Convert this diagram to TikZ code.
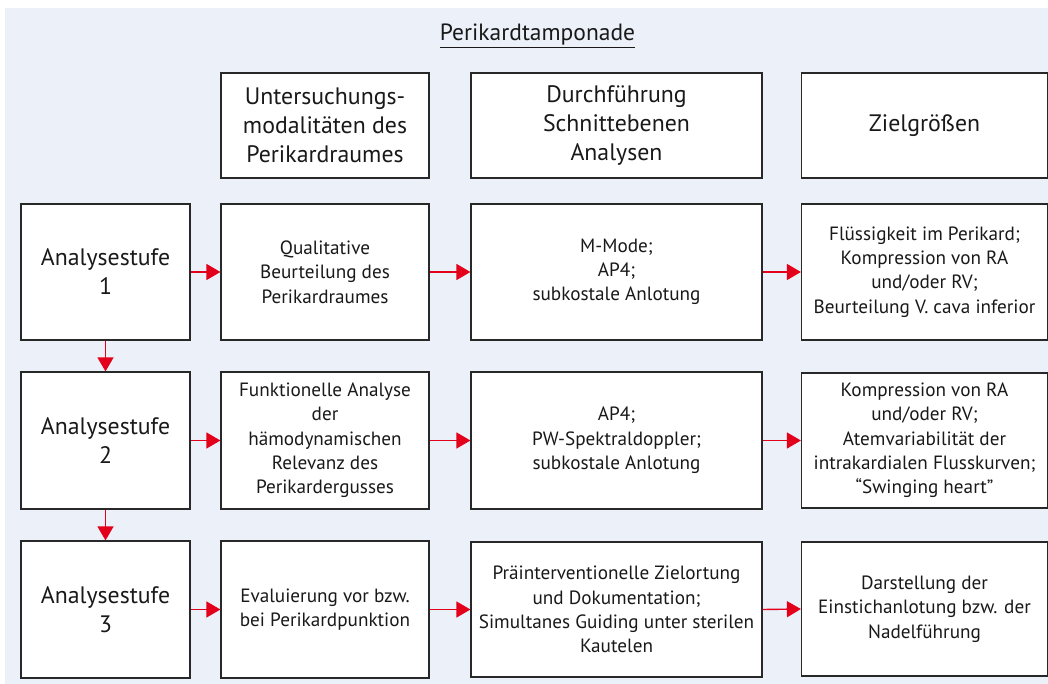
\documentclass[tikz,border=0pt]{standalone}
\usepackage{fontspec}
\setmainfont{PT Sans}
\usetikzlibrary{arrows.meta}
\definecolor{bgc}{RGB}{236,240,249}
\definecolor{arrc}{RGB}{226,0,26}
\definecolor{linec}{RGB}{40,40,40}
\definecolor{txtc}{RGB}{25,25,25}
\tikzset{
  box/.style={draw=linec, line width=1.2pt, fill=white, inner sep=0pt, align=center, text=txtc, anchor=center},
  bigtxt/.style={font=\fontsize{23.8}{29}\selectfont},
  smalltxt/.style={font=\fontsize{19.2}{24.3}\selectfont},
  colA/.style={minimum width=169pt},
  colB/.style={minimum width=208pt},
  colC/.style={minimum width=291pt},
  colD/.style={minimum width=246pt},
  hrow/.style={minimum height=105pt},
  rowbox/.style={minimum height=136pt},
  conn/.style={draw=arrc, line width=1.4pt, -{Triangle[length=14pt,width=16pt]}}
}
\begin{document}
\begin{tikzpicture}[x=1pt,y=-1pt]
\useasboundingbox (0,0) rectangle (1048,684);
\fill[white] (0,0) rectangle (1048,684);
\fill[bgc] (5,8) rectangle (1048,684);
\node[text=txtc, font=\fontsize{23.5}{28}\selectfont] (title) at (537.5,36) {\underline{Perikardtamponade}};
% header
\node[box,bigtxt,colB,hrow] (h1) at (325,125.5) {Untersuchungs-\\modalitäten des\\Perikardraumes};
\node[box,bigtxt,colC,hrow] (h2) at (616.5,125.5) {Durchführung\\Schnittebenen\\Analysen};
\node[box,bigtxt,colD,hrow] (h3) at (924.5,125.5) {Zielgrößen};
% row 1
\node[box,bigtxt,colA,rowbox] (a1) at (105.5,272) {Analysestufe\\1};
\node[box,smalltxt,colB,rowbox] (b1) at (325,272) {Qualitative\\Beurteilung des\\Perikardraumes};
\node[box,smalltxt,colC,rowbox] (c1) at (616.5,272) {M-Mode;\\AP4;\\subkostale Anlotung};
\node[box,smalltxt,colD,rowbox] (d1) at (924.5,272) {Flüssigkeit im Perikard;\\Kompression von RA\\und/oder RV;\\Beurteilung V. cava inferior};
% row 2
\node[box,bigtxt,colA,rowbox,minimum height=137pt] (a2) at (105.5,440.5) {Analysestufe\\2};
\node[box,smalltxt,colB,rowbox,minimum height=137pt] (b2) at (325,440.5) {Funktionelle Analyse\\der\\hämodynamischen\\Relevanz des\\Perikardergusses};
\node[box,smalltxt,colC,rowbox,minimum height=137pt] (c2) at (616.5,440.5) {AP4;\\PW-Spektraldoppler;\\subkostale Anlotung};
\node[box,smalltxt,colD,rowbox,minimum height=135pt] (d2) at (924.5,440.5) {Kompression von RA\\und/oder RV;\\Atemvariabilität der\\intrakardialen Flusskurven;\\“Swinging heart”};
% row 3
\node[box,bigtxt,colA,rowbox,minimum height=137pt] (a3) at (105.5,609.5) {Analysestufe\\3};
\node[box,smalltxt,colB,rowbox,minimum height=137pt] (b3) at (325,609.5) {Evaluierung vor bzw.\\bei Perikardpunktion};
\node[box,smalltxt,colC,rowbox,minimum height=135pt] (c3) at (616.5,609.5) {Präinterventionelle Zielortung\\und Dokumentation;\\Simultanes Guiding unter sterilen\\Kautelen};
\node[box,smalltxt,colD,rowbox,minimum height=134pt] (d3) at (924.5,609) {Darstellung der\\Einstichanlotung bzw. der\\Nadelführung};
% connectors
\foreach \r in {1,2,3}{
  \draw[conn] (a\r.east) -- (b\r.west);
  \draw[conn] (b\r.east) -- (c\r.west);
  \draw[conn] (c\r.east) -- (d\r.west);
}
\draw[conn] (a1.south) -- (a2.north);
\draw[conn] (a2.south) -- (a3.north);
\end{tikzpicture}
\end{document}
